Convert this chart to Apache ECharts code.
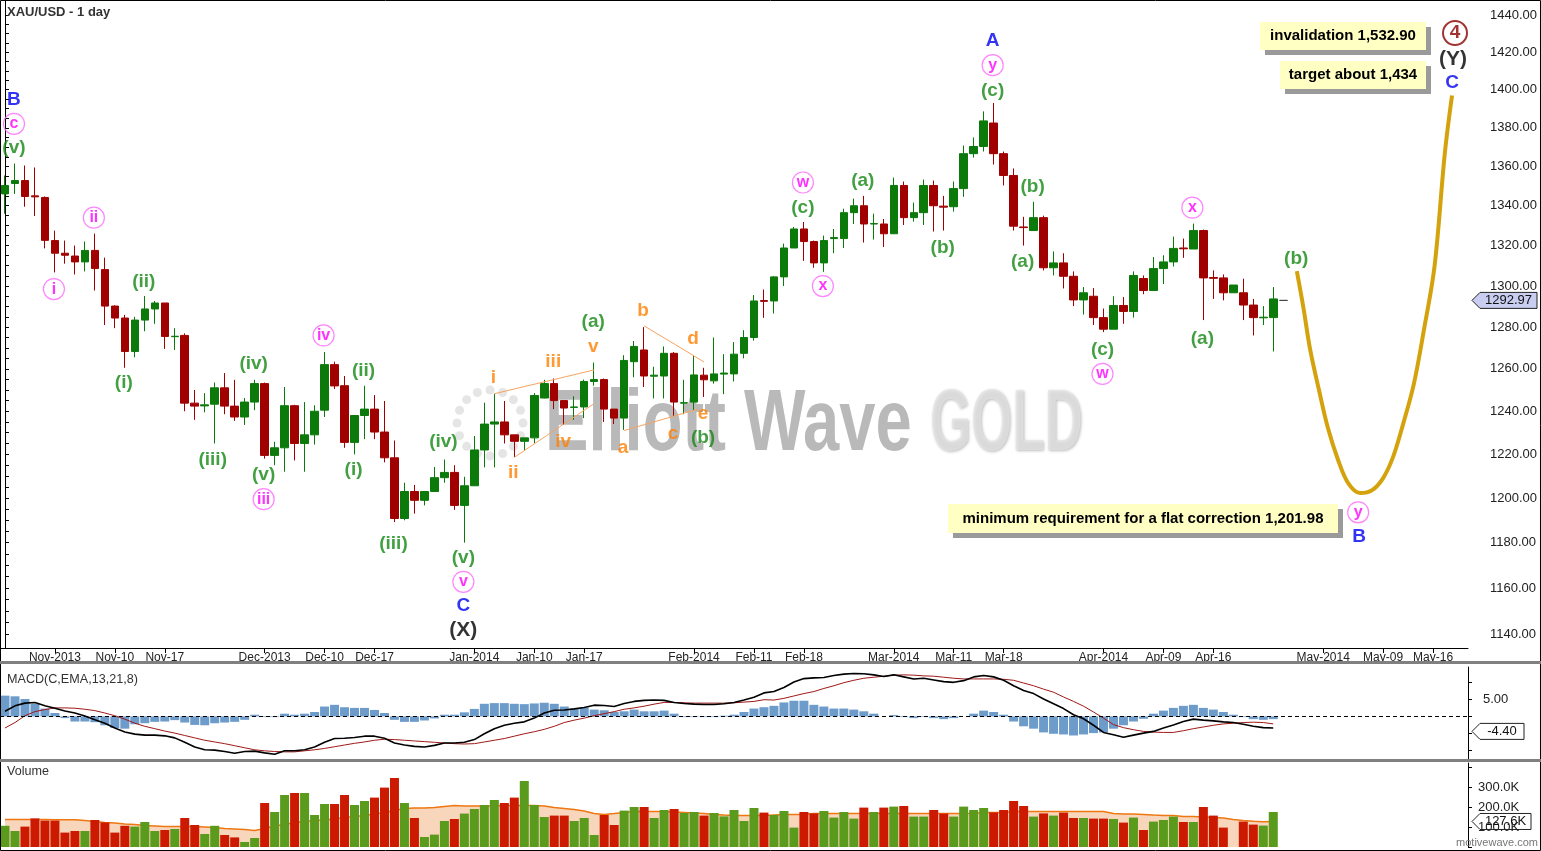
<!DOCTYPE html>
<html><head><meta charset="utf-8">
<script src="https://cdn.jsdelivr.net/npm/echarts@6/dist/echarts.min.js"></script>
<style>html,body{margin:0;padding:0;background:#fff}#c{width:1541px;height:851px}</style>
</head><body><div id="c"></div>
<script>
// ---------------- DATA ----------------
const tradingDays = {
 '2013-10':[25,28,29,30,31],
 '2013-11':[1,4,5,6,7,8,11,12,13,14,15,18,19,20,21,22,25,26,27,28,29],
 '2013-12':[2,3,4,5,6,9,10,11,12,13,16,17,18,19,20,23,24,26,27,30,31],
 '2014-01':[2,3,6,7,8,9,10,13,14,15,16,17,20,21,22,23,24,27,28,29,30,31],
 '2014-02':[3,4,5,6,7,10,11,12,13,14,17,18,19,20,21,24,25,26,27,28],
 '2014-03':[3,4,5,6,7,10,11,12,13,14,17,18,19,20,21,24,25,26,27,28,31],
 '2014-04':[1,2,3,4,7,8,9,10,11,14,15,16,17,18,21,22,23,24,25,28,29,30],
 '2014-05':[1,2,5,6,7,8,9,12,13,14,15,16,19,20,21]
};
const dateTicks = [
 ['2013-11-01','Nov-2013'],['2013-11-11','Nov-10'],['2013-11-18','Nov-17'],
 ['2013-12-02','Dec-2013'],['2013-12-10','Dec-10'],['2013-12-17','Dec-17'],
 ['2014-01-02','Jan-2014'],['2014-01-10','Jan-10'],['2014-01-17','Jan-17'],
 ['2014-02-03','Feb-2014'],['2014-02-11','Feb-11'],['2014-02-18','Feb-18'],
 ['2014-03-03','Mar-2014'],['2014-03-11','Mar-11'],['2014-03-18','Mar-18'],
 ['2014-04-01','Apr-2014'],['2014-04-09','Apr-09'],['2014-04-16','Apr-16'],
 ['2014-05-01','May-2014'],['2014-05-09','May-09'],['2014-05-16','May-16']
];
const priceTicks = [1140,1160,1180,1200,1220,1240,1260,1280,1300,1320,1340,1360,1380,1400,1420,1440];
const macdTicks = [5];
const volumeTicks = [100000,200000,300000];
const lastPrice = 1292.97, lastMacd = -4.40, lastVolMA = 127.6;

// [open, close, low, high]
const candles = [
[1346,1350.3,1336,1355.4],[1351.3,1352.8,1346,1361.5],[1352.8,1344.7,1339.5,1360.5],[1345,1344.5,1334.8,1359.5],
[1344.2,1322.6,1318.6,1344.7],[1322.5,1316.2,1306.7,1327.5],[1316.2,1315.2,1311,1322.5],[1314.8,1311.9,1305.7,1320],
[1311.9,1317.6,1307.2,1322],[1317.6,1308.6,1297.8,1326],[1308.1,1290.2,1281,1314],[1290.2,1284.4,1279.5,1290.6],
[1284.4,1268.3,1260.5,1285.9],[1268.3,1283.4,1265.5,1285],[1283.4,1288.8,1278,1295.1],[1288.8,1291.7,1281.6,1292.7],
[1291.7,1275.5,1269.5,1291.7],[1275.4,1275.6,1269,1279.5],[1276,1243.8,1240,1277],[1243.8,1242.4,1236,1250],
[1242.5,1243,1239.5,1248.5],[1243.3,1251,1225,1253.5],[1251,1242.4,1238.6,1258],[1242.4,1237.3,1235.5,1254.8],
[1237.3,1244.3,1233.6,1246.2],[1244.3,1253,1240.5,1254.8],[1253,1219.5,1218,1253.5],[1219.5,1223,1215,1225.8],
[1223,1242.6,1212,1251.4],[1242.6,1225,1217.2,1243],[1225,1229,1212,1244.3],[1229,1240,1224.5,1242.8],
[1240.5,1262,1237.3,1268],[1262,1251.9,1250.4,1263.4],[1252,1225.5,1223,1256.6],[1225.5,1238,1220,1238],
[1238,1241,1227,1252],[1241,1230.3,1227,1247.6],[1230.3,1218.4,1216.3,1244.8],[1218.4,1190.8,1189.2,1226.4],
[1190.8,1203,1190,1207],[1203,1199,1193,1206],[1199,1203,1196.7,1203.2],[1203,1209.3,1203,1214.2],
[1209.3,1211.7,1207,1217.6],[1211.7,1196.7,1194.7,1215],[1196.7,1205.6,1180,1209.7],[1205.6,1222,1205.6,1228.5],
[1222,1234,1214,1244],[1234,1235,1214,1248.2],[1235,1229,1225,1244.8],[1229,1226,1218.8,1229],
[1226,1227.6,1221.8,1227.6],[1227.6,1247.4,1225,1248.5],[1246.2,1253,1246,1254.8],[1253,1245,1241,1255.4],
[1245,1241.5,1233.6,1245],[1241.8,1242,1236,1247],[1242,1254,1236.8,1254.9],[1254,1254.9,1252,1263],
[1254.9,1241,1235,1255.4],[1241,1236.8,1234,1241],[1236.8,1264,1231.3,1266.5],[1263.4,1270.7,1256,1273.3],
[1269,1256.6,1251.4,1280],[1256.5,1257,1246,1261],[1256.6,1267.4,1246,1270.7],[1267.4,1244.3,1237.8,1268],
[1243.8,1244,1238.6,1254.8],[1244.3,1257.1,1240.5,1266.5],[1257,1254.8,1246.7,1260.5],[1254.3,1257.6,1253,1275],
[1257.5,1258,1248,1267],[1257.6,1267,1254,1272.8],[1267.4,1275,1265,1278.5],[1275,1292.7,1273.5,1295.6],
[1292.9,1292.5,1284.5,1298.3],[1292.7,1304.5,1286.6,1304.8],[1304.5,1318.8,1300,1321],[1318.8,1328.3,1318.8,1329.3],
[1328.3,1322,1312.4,1331.8],[1322,1311.4,1309,1322.5],[1311.4,1322.5,1307,1325],[1323.5,1324,1316.2,1328.3],
[1323.5,1336.5,1318.8,1338.5],[1336.5,1340,1330.8,1343.6],[1340,1330.8,1321.5,1345],[1330.8,1331,1323,1336],
[1330.8,1325.9,1319.3,1333.3],[1325.9,1350.3,1325.9,1354.3],[1350.3,1334,1330.3,1352.3],[1334,1336.5,1332,1341.6],
[1336.5,1350.3,1330.3,1353.3],[1350.3,1340,1327,1352.8],[1339.8,1339.3,1327.5,1345],[1339.5,1348.7,1337,1352.3],
[1348.7,1366.6,1344.5,1370.8],[1366.6,1370.3,1364.6,1375],[1370.3,1383.6,1367.7,1388.6],[1382.5,1366.6,1361,1393],
[1366.6,1355.4,1350.3,1367.7],[1355.4,1329.7,1327.5,1359],[1329.3,1329,1320,1334.4],[1327.5,1334,1327.5,1342],
[1334,1309,1307.7,1335],[1309,1311.4,1305.2,1317.1],[1311.4,1304.8,1298.8,1316.2],[1304.8,1293.2,1290.2,1307.2],
[1293.2,1296.7,1286.1,1299.5],[1295,1284.6,1281,1299],[1284.6,1279,1277.6,1289],[1279,1290.5,1279,1295],
[1290.5,1287.6,1281.6,1294.6],[1287.6,1305.2,1284.6,1307.2],[1303.7,1297.8,1296,1305.2],[1297.8,1308.6,1297.8,1314.3],
[1308.6,1311.9,1301,1315.2],[1311.9,1318.6,1309.6,1324.5],[1318.8,1318.4,1313.9,1323.5],[1318.3,1327.5,1318.3,1331],
[1327.5,1304,1283.4,1328],[1304.2,1303.8,1293.7,1307.7],[1304,1296.7,1293,1305.7],[1296.7,1300.5,1296.7,1300.5],
[1296.7,1290.7,1283.4,1303.6],[1290.7,1284.6,1276,1293.7],[1284.5,1284.8,1281,1290.2],[1284.6,1293.7,1268.3,1299.5],
[1292.97,1292.97,1292.97,1292.97]
];

const macdHist = [6.1,5.9,5.1,3.7,2.3,1.0,-0.5,-1.5,-1.5,-1.7,-2.6,-3.4,-3.6,-2.3,-2.0,-1.6,-1.5,-1.1,-1.8,-2.5,
-2.6,-2.0,-1.8,-1.6,-1.0,0.5,-0.2,-0.2,0.8,0.5,0.8,1.3,2.9,3.4,2.7,2.5,2.5,1.9,1.0,-1.0,
-1.6,-1.6,-1.2,-0.6,0.5,0.5,1.2,2.2,3.7,3.9,3.9,3.7,3.6,3.8,4.0,3.7,2.9,2.3,2.6,2.0,
1.8,1.3,1.5,2.0,1.5,1.5,1.7,0.8,-0.2,-0.2,-0.2,-0.2,0.2,0.5,1.3,2.3,2.7,
3.1,4.1,4.6,4.6,3.4,2.9,2.3,2.3,2.0,1.5,0.8,0,0.4,-0.2,-0.5,-0.2,-0.5,-0.8,-0.5,0,
0.8,1.7,1.3,0.5,-1.5,-2.9,-3.6,-4.7,-5.1,-5.3,-5.6,-5.3,-4.9,-4.7,-3.6,-2.6,-1.5,-0.7,0.8,1.7,
2.5,3.1,3.4,2.5,2.0,1.3,0.5,-0.2,-0.8,-1.0,-0.8];
const macdLine = [1.5,3.1,3.9,4.1,3.1,2.4,1.6,1.0,0.1,-1.0,-2.0,-3.4,-4.6,-5.2,-5.5,-5.5,-5.7,-6.3,-7.6,-9.0,
-9.8,-9.9,-10.3,-10.8,-10.3,-10.2,-10.7,-11.1,-10.1,-10.1,-9.8,-9.0,-7.6,-6.5,-6.4,-6.2,-5.8,-5.8,-6.4,-7.8,
-8.4,-8.8,-9.0,-8.5,-7.8,-7.8,-7.6,-6.8,-5.1,-3.6,-2.6,-2.0,-1.6,-0.5,1.0,1.8,1.9,2.2,2.6,3.3,
3.2,2.9,3.8,4.4,4.7,4.8,4.7,4.1,3.8,3.6,3.5,3.5,3.7,4.1,4.8,5.6,6.9,
7.3,8.5,10.1,11.1,11.3,11.4,12.0,12.4,12.6,12.5,12.2,11.7,12.2,11.6,11.0,11.2,10.7,10.2,10.0,10.5,
11.6,12.0,11.6,10.6,9.0,7.6,6.7,5.1,3.7,2.3,0.5,-0.7,-2.6,-4.7,-5.4,-6.1,-5.5,-4.9,-4.4,-3.4,
-2.5,-1.5,-0.8,-1.1,-1.3,-1.6,-1.8,-2.3,-2.9,-3.3,-3.4];
const macdSignal = [-3.4,-1.8,0.2,1.4,2.0,2.5,2.5,2.4,2.1,1.7,1.0,0.2,-0.8,-2.0,-2.9,-3.6,-4.3,-4.9,-5.6,-6.3,
-7.0,-7.5,-8.0,-8.6,-9.2,-9.8,-10.1,-10.3,-10.4,-10.4,-10.1,-9.8,-9.4,-8.9,-8.4,-7.9,-7.5,-7.0,-6.7,-6.8,
-7.0,-7.2,-7.4,-7.6,-7.8,-8.0,-8.1,-8.0,-7.5,-7.0,-6.5,-5.8,-5.1,-4.5,-3.8,-2.9,-1.8,-1.1,-0.5,0.2,
0.8,1.4,2.1,2.5,3.0,3.6,4.1,4.1,4.0,3.9,3.9,3.9,3.9,4.0,4.2,4.4,4.9,
4.8,5.3,6.0,6.7,7.3,8.2,9.0,9.9,10.6,11.2,11.5,11.8,12.1,12.2,12.1,11.9,11.8,11.5,11.2,11.0,
11.0,11.0,11.0,10.9,10.6,9.8,9.0,8.0,7.1,5.7,4.4,3.0,1.3,-0.5,-2.4,-3.3,-3.9,-4.4,-4.6,-4.7,
-4.7,-4.2,-3.6,-3.1,-2.6,-2.2,-2.0,-1.8,-1.7,-1.8,-2.2];

// volume in thousands
const volume = [106,80,102,143,132,132,72,80,80,135,123,72,106,102,125,80,85,90,145,110,
65,106,60,48,25,45,220,175,260,270,270,160,215,215,260,210,230,247,297,345,
220,145,50,62,130,140,167,190,210,235,220,247,330,210,150,157,157,130,145,60,
160,110,182,200,200,145,185,190,170,175,157,170,153,185,130,195,172,
160,180,97,175,168,180,147,175,142,197,175,197,202,205,152,152,185,167,152,202,
185,195,173,185,230,205,152,168,157,172,145,145,142,142,140,122,147,85,127,135,
152,125,125,200,157,97,0,127,112,107,175];
const volumeMA = [138,138,138,138,138,136,136,136,132,127,123,120,115,112,107,105,103,102,102,102,
100,97,93,90,87,82,93,105,113,123,127,132,135,140,147,152,157,165,173,182,
192,195,195,197,202,207,205,205,205,205,207,208,208,208,205,198,193,187,180,168,
163,167,172,177,177,177,177,175,173,170,167,163,160,158,157,157,157,
160,163,163,163,167,167,167,167,167,167,167,167,167,167,167,167,167,168,168,168,
168,172,172,172,177,177,177,177,177,177,177,177,177,177,168,165,165,163,160,158,
157,153,152,150,148,145,138,133,129,126,127.6];

// wave labels: [text, bar position, price, style]
const waveLabels = [
 ['B',0.9,1394.9,'blue'],['c',0.9,1382.1,'circ'],['(v)',0.9,1369.5,'green'],
 ['ii',8.9,1334,'circ'],['i',4.9,1298.5,'circ'],['(ii)',13.9,1301.9,'green'],['(i)',11.9,1253.3,'green'],
 ['(iii)',20.8,1217.3,'green'],['(iv)',24.9,1262.5,'green'],['(v)',25.9,1210.5,'green'],['iii',25.9,1199.5,'circ'],
 ['iv',31.9,1276,'circ'],['(ii)',35.9,1259,'green'],['(i)',34.9,1212.7,'green'],['(iii)',38.9,1179.6,'green'],
 ['(iv)',43.9,1225.9,'green'],['(v)',45.9,1173.3,'green'],['v',45.9,1162.7,'circ'],['C',45.9,1152.3,'blue'],['(X)',45.9,1141.7,'black'],
 ['i',48.9,1255.7,'orange'],['ii',50.9,1211.4,'orange'],['iii',54.9,1263.5,'orange'],['iv',55.9,1225.9,'orange'],
 ['v',58.9,1270.5,'orange'],['(a)',58.9,1282.4,'green'],['b',63.9,1287.8,'orange'],['a',61.9,1223.2,'orange'],
 ['c',66.9,1229.5,'orange'],['d',68.9,1274.5,'orange'],['e',69.9,1238.6,'orange'],['(b)',69.9,1227.7,'green'],
 ['w',79.9,1351.8,'circ'],['(c)',79.9,1339,'green'],['x',81.9,1300,'circ'],['(a)',85.9,1352.8,'green'],['(b)',93.9,1319,'green'],
 ['A',98.9,1425.9,'blue'],['y',98.9,1413,'circ'],['(c)',98.9,1399.5,'green'],['(b)',102.9,1349.7,'green'],['(a)',101.9,1311.9,'green'],
 ['(c)',109.9,1269,'green'],['w',109.9,1257.6,'circ'],['x',118.9,1339,'circ'],['(a)',119.9,1274.5,'green'],
 ['(b)',129.3,1313.3,'green'],['y',135.5,1193.6,'circ'],['B',135.6,1182.7,'blue'],
 ['4',145.2,1430.3,'circ4'],['(Y)',145.0,1416.2,'black'],['C',144.9,1403.8,'blue']
];
// triangle / channel lines (bar position, price)
const waveLines = [
 [[49,1248.2],[59,1259.5]],
 [[51,1218.6],[58.9,1243.3]],
 [[64,1280.6],[70,1263.3]],
 [[62,1231],[69.4,1241]]
];
// projected path
const projection = [[129.36,1307.3],[130.04,1288.8],[130.7,1269],[131.6,1249.5],[132.46,1232.4],[133.5,1217.3],
 [134.5,1206.8],[135.7,1202.3],[136.9,1203.6],[138,1209.1],[139,1218.8],[140,1234],[141.08,1252.9],
 [142.1,1279],[143.15,1309.7],[144.18,1366.8],[144.9,1396.9]];
const notes = ['invalidation 1,532.90','target about 1,434','minimum requirement for a flat correction 1,201.98'];

// ---------------- BUILD ----------------
const dates = [];
Object.keys(tradingDays).forEach(m => tradingDays[m].forEach(d => dates.push(m + '-' + String(d).padStart(2,'0'))));
const tickMap = {}; dateTicks.forEach(t => tickMap[t[0]] = t[1]);
const tickFn = (i, v) => tickMap[v] !== undefined;
const N = dates.length;

const UP = '#0b7a0b', DOWN = '#a00000';
const VUP = '#5a9a1c', VDOWN = '#cc1a00';
const FONT = 'Liberation Sans, Arial, sans-serif';

const candleData = candles.map((c, i) => {
  if (i === candles.length - 1) return {value: c, itemStyle: {color:'#444', color0:'#444', borderColor:'#444', borderColor0:'#444'}};
  return c;
});
const volData = volume.map((v, i) => ({value: v * 1000, itemStyle: {color: candles[i][1] >= candles[i][0] ? VUP : VDOWN}}));

const labelStyles = {
  blue:  {color:'#0000f0', fontSize:19},
  green: {color:'#138813', fontSize:19},
  orange:{color:'#ff7f00', fontSize:19},
  black: {color:'#000000', fontSize:21},
  circ:  {color:'#ff00ff', fontSize:16, circle:'#ff66ff', size:21, bw:1.2},
  circ4: {color:'#8b0000', fontSize:19, circle:'#8b0000', size:24, bw:2}
};
const labelSeries = Object.keys(labelStyles).map(k => {
  const s = labelStyles[k];
  return {
    type:'scatter', xAxisIndex:1, yAxisIndex:0, z:5, silent:true,
    symbol: s.circle ? 'circle' : 'rect',
    symbolSize: s.circle ? s.size : 1,
    itemStyle: s.circle ? {color:'rgba(255,255,255,0)', borderColor:s.circle, borderWidth:s.bw} : {color:'rgba(0,0,0,0)'},
    label: {show:true, position:'inside', formatter: p => p.name, color:s.color, fontSize:s.fontSize, fontWeight:'bold', fontFamily:FONT},
    data: waveLabels.filter(l => l[3] === k).map(l => ({name:l[0], value:[l[1], l[2]]}))
  };
});
const lineSeries = waveLines.map(seg => ({
  type:'line', xAxisIndex:1, yAxisIndex:0, data: seg, symbol:'none', silent:true, z:4,
  lineStyle:{color:'#f7a462', width:1}
}));

const option = {
  animation:false,
  backgroundColor:'#fff',
  grid:[
    {left:-2, top:0, width:1470, height:648},
    {left:-2, top:667, width:1470, height:92},
    {left:-2, top:763, width:1470, height:84}
  ],
  xAxis:[
    {type:'category', gridIndex:0, data:dates, boundaryGap:true,
     axisLine:{show:true, lineStyle:{color:'#000', width:1}},
     axisTick:{show:true, alignWithLabel:true, interval:tickFn, length:5, lineStyle:{color:'#000'}},
     axisLabel:{show:true, interval:tickFn, formatter:v => tickMap[v] || '', color:'#222', fontFamily:FONT, fontSize:12, margin:4},
     splitLine:{show:false}},
    {type:'value', gridIndex:0, min:-0.5, max:N-0.5, show:false},
    {type:'category', gridIndex:1, data:dates, show:false},
    {type:'category', gridIndex:2, data:dates, show:false}
  ],
  yAxis:[
    {type:'log', logBase:10, gridIndex:0, position:'right', min:1134.0, max:1448.2,
     axisLine:{show:true, lineStyle:{color:'#000'}},
     axisTick:{show:true, customValues: priceTicks.concat(priceTicks.slice(0,-1).flatMap(p => [p+5,p+10,p+15])), length:4, lineStyle:{color:'#000'}},
     axisLabel:{show:true, customValues: priceTicks, formatter: v => Number(v).toFixed(2), color:'#222', fontFamily:FONT, fontSize:13, margin:22},
     splitLine:{show:false}},
    {type:'value', gridIndex:1, position:'right', min:-12.5, max:14.5,
     axisLine:{show:true, lineStyle:{color:'#000'}},
     axisTick:{show:true, customValues:[-10,-5,0,5,10], length:4},
     axisLabel:{show:true, customValues: macdTicks, formatter: v => Number(v).toFixed(2), color:'#222', fontFamily:FONT, fontSize:13, margin:15},
     splitLine:{show:false}},
    {type:'value', gridIndex:2, position:'right', min:0, max:420000,
     axisLine:{show:true, lineStyle:{color:'#000'}},
     axisTick:{show:true, customValues:[0,100000,200000,300000,400000], length:4},
     axisLabel:{show:true, customValues: volumeTicks, formatter: v => (v/1000).toFixed(1)+'K', color:'#222', fontFamily:FONT, fontSize:13, margin:10},
     splitLine:{show:false}}
  ],
  series:[
    {type:'candlestick', xAxisIndex:0, yAxisIndex:0, data:candleData, barWidth:8,
     itemStyle:{color:UP, color0:DOWN, borderColor:UP, borderColor0:DOWN, borderWidth:1}},
    ...lineSeries,
    {type:'line', xAxisIndex:1, yAxisIndex:0, data:projection, smooth:0.35, symbol:'none', z:4, silent:true,
     lineStyle:{color:'#d4a20c', width:4}},
    ...labelSeries,
    {type:'bar', xAxisIndex:2, yAxisIndex:1, data:macdHist, barWidth:9, z:1, itemStyle:{color:'#6d9ccb'},
     markLine:{silent:true, symbol:'none', label:{show:false}, data:[{yAxis:0}], lineStyle:{color:'#000', type:[4,3], width:1}}},
    {type:'line', xAxisIndex:2, yAxisIndex:1, data:macdSignal, symbol:'none', z:3, lineStyle:{color:'#a01818', width:1}},
    {type:'line', xAxisIndex:2, yAxisIndex:1, data:macdLine, symbol:'none', z:3, lineStyle:{color:'#000', width:1.6}},
    {type:'line', xAxisIndex:3, yAxisIndex:2, data:volumeMA.map(v => v*1000), symbol:'none', z:1,
     lineStyle:{color:'#ee7711', width:1.5}, areaStyle:{color:'#f8d6bc', opacity:1}},
    {type:'bar', xAxisIndex:3, yAxisIndex:2, data:volData, barWidth:9, z:3}
  ]
};

const chart = echarts.init(document.getElementById('c'), null, {renderer:'canvas'});
chart.setOption(option);

// -------- overlay graphics (positions through the library's scales) --------
function box(x1, x2, y, txt, fill) {
  return {type:'group', children:[
    {type:'polygon', shape:{points:[[x1,y],[x1+8,y-8],[x2,y-8],[x2,y+8],[x1+8,y+8]]},
     style:{fill:fill, stroke:'#222', lineWidth:1}},
    {type:'text', style:{text:txt, x:(x1+8+x2)/2, y:y, align:'center', verticalAlign:'middle', fill:'#111', font:'13px ' + FONT}}
  ], z:20};
}
function note(x, y, w, h, txt) {
  return {type:'group', z:20, children:[
    {type:'rect', shape:{x:x+5, y:y+5, width:w, height:h}, style:{fill:'#9a9a9a'}},
    {type:'rect', shape:{x:x, y:y, width:w, height:h}, style:{fill:'#ffffc4'}},
    {type:'text', style:{text:txt, x:x+w/2, y:y+h/2, align:'center', verticalAlign:'middle', fill:'#000', font:'bold 15px ' + FONT}}
  ]};
}
const yPrice = chart.convertToPixel({yAxisIndex:0}, lastPrice);
const yMacd = chart.convertToPixel({yAxisIndex:1}, lastMacd);
const yVol = chart.convertToPixel({yAxisIndex:2}, lastVolMA*1000);
const dots = [];
for (let k = 0; k < 16; k++) {
  const a = k / 16 * Math.PI * 2;
  dots.push({type:'circle', shape:{cx:490 + 33*Math.cos(a), cy:423 + 33*Math.sin(a), r:4.5}, style:{fill:'rgba(190,190,190,0.4)'}});
}
chart.setOption({graphic:[
  {type:'rect', shape:{x:0.5, y:0.5, width:1540, height:850}, style:{fill:'none', stroke:'#000', lineWidth:1}, z:30, silent:true},
  {type:'rect', shape:{x:0, y:661, width:1541, height:3}, style:{fill:'#808080'}, z:30},
  {type:'rect', shape:{x:0, y:759, width:1541, height:3}, style:{fill:'#808080'}, z:30},
  {type:'text', x:7, y:12, style:{text:'XAU/USD - 1 day', font:'bold 13px ' + FONT, fill:'#333', verticalAlign:'middle'}, z:30},
  {type:'text', x:7, y:680, style:{text:'MACD(C,EMA,13,21,8)', font:'12.6px ' + FONT, fill:'#333', verticalAlign:'middle'}, z:30},
  {type:'text', x:7, y:772, style:{text:'Volume', font:'12.6px ' + FONT, fill:'#333', verticalAlign:'middle'}, z:30},
  {type:'text', x:1538, y:843, style:{text:'motivewave.com', font:'11px ' + FONT, fill:'#777', align:'right', verticalAlign:'middle'}, z:30},
  note(1260, 22, 166, 28, notes[0]),
  note(1280, 61, 146, 28, notes[1]),
  note(948, 504, 390, 29, notes[2]),
  box(1472, 1537, yPrice, lastPrice.toFixed(2), '#c9cdf0'),
  box(1472, 1524, yMacd, lastMacd.toFixed(2), '#fff'),
  box(1472, 1531, yVol, lastVolMA.toFixed(1) + 'K', '#fff'),
  {type:'group', z:40, silent:true, children: dots.concat([
    {type:'text', x:545, y:426, scaleX:0.74, originX:0, originY:0, style:{text:'Elliott Wave', x:0, y:0, font:'bold 88px ' + FONT, fill:'rgba(135,135,135,0.58)', verticalAlign:'middle'}},
    {type:'text', x:930, y:426, scaleX:0.6, originX:0, originY:0, style:{text:'GOLD', x:0, y:0, font:'bold 88px ' + FONT, fill:'rgba(228,228,228,0.75)', verticalAlign:'middle', textShadowColor:'rgba(0,0,0,0.35)', textShadowBlur:3, textShadowOffsetX:1, textShadowOffsetY:1}}
  ])}
]});
</script></body></html>
